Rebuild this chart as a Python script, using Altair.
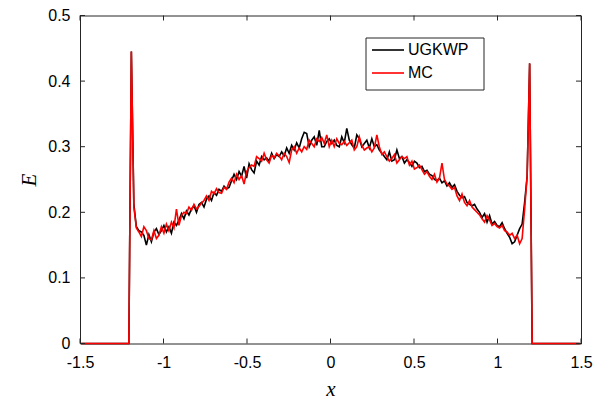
import altair as alt
import pandas as pd
import numpy as np

# ---------------- data ----------------
x_ticks = [-1.5, -1, -0.5, 0, 0.5, 1, 1.5]
y_ticks = [0, 0.1, 0.2, 0.3, 0.4, 0.5]
series_names = ["UGKWP", "MC"]
series_colors = ["black", "red"]

# cell centres: -1.4925 + 0.015*k, k = 0..199 ; zero outside |x| > 1.2
x_first = -1.4925
x_step = 0.015
n_zero = 20

ugkwp_core = [
    0.445, 0.212, 0.178, 0.172, 0.170, 0.165, 0.150, 0.166, 0.155, 0.170,
    0.175, 0.166, 0.172, 0.180, 0.170, 0.178, 0.168, 0.185, 0.180, 0.188,
    0.198, 0.190, 0.202, 0.196, 0.205, 0.210, 0.200, 0.212, 0.215, 0.208,
    0.220, 0.225, 0.218, 0.230, 0.226, 0.235, 0.232, 0.240, 0.236, 0.238,
    0.248, 0.258, 0.250, 0.262, 0.255, 0.270, 0.252, 0.274, 0.265, 0.260,
    0.278, 0.272, 0.285, 0.280, 0.283, 0.278, 0.290, 0.282, 0.288, 0.285,
    0.292, 0.286, 0.298, 0.290, 0.302, 0.295, 0.306, 0.298, 0.312, 0.322,
    0.320, 0.300, 0.310, 0.315, 0.302, 0.325, 0.300, 0.300, 0.308, 0.312,
    0.305, 0.310, 0.302, 0.300, 0.315, 0.306, 0.328, 0.310, 0.303, 0.298,
    0.318, 0.312, 0.300, 0.305, 0.310, 0.298, 0.312, 0.300, 0.303, 0.295,
    0.290, 0.285, 0.280, 0.292, 0.278, 0.280, 0.295, 0.282, 0.285, 0.275,
    0.280, 0.276, 0.270, 0.278, 0.275, 0.268, 0.270, 0.262, 0.264, 0.258,
    0.256, 0.250, 0.248, 0.252, 0.245, 0.248, 0.240, 0.245, 0.238, 0.242,
    0.232, 0.226, 0.222, 0.224, 0.215, 0.212, 0.210, 0.212, 0.205, 0.200,
    0.192, 0.198, 0.185, 0.195, 0.182, 0.186, 0.180, 0.178, 0.184, 0.175,
    0.168, 0.162, 0.152, 0.155, 0.165, 0.175, 0.182, 0.215, 0.255, 0.427,
]

mc_core = [
    0.445, 0.208, 0.176, 0.170, 0.163, 0.178, 0.172, 0.160, 0.158, 0.172,
    0.160, 0.165, 0.178, 0.168, 0.182, 0.172, 0.185, 0.176, 0.205, 0.180,
    0.195, 0.200, 0.198, 0.208, 0.203, 0.212, 0.205, 0.209, 0.214, 0.218,
    0.225, 0.218, 0.232, 0.228, 0.236, 0.230, 0.229, 0.238, 0.235, 0.246,
    0.252, 0.245, 0.258, 0.250, 0.256, 0.243, 0.262, 0.268, 0.272, 0.270,
    0.285, 0.282, 0.278, 0.290, 0.280, 0.275, 0.287, 0.283, 0.290, 0.286,
    0.280, 0.290, 0.285, 0.276, 0.295, 0.300, 0.290, 0.298, 0.292, 0.300,
    0.296, 0.310, 0.305, 0.300, 0.312, 0.308, 0.314, 0.305, 0.318, 0.300,
    0.310, 0.300, 0.312, 0.305, 0.303, 0.308, 0.302, 0.306, 0.310, 0.295,
    0.300, 0.315, 0.302, 0.295, 0.298, 0.300, 0.292, 0.298, 0.318, 0.300,
    0.288, 0.292, 0.285, 0.278, 0.282, 0.288, 0.275, 0.280, 0.285, 0.282,
    0.285, 0.272, 0.278, 0.266, 0.268, 0.272, 0.265, 0.258, 0.262, 0.255,
    0.250, 0.258, 0.246, 0.252, 0.275, 0.250, 0.243, 0.240, 0.235, 0.238,
    0.225, 0.218, 0.228, 0.215, 0.210, 0.218, 0.208, 0.204, 0.200, 0.196,
    0.190, 0.185, 0.195, 0.188, 0.180, 0.183, 0.178, 0.176, 0.180, 0.172,
    0.170, 0.165, 0.168, 0.160, 0.165, 0.152, 0.160, 0.205, 0.255, 0.427,
]

# ---------------- build tables ----------------
ugkwp_vals = [0.0] * n_zero + ugkwp_core + [0.0] * n_zero
mc_vals = [0.0] * n_zero + mc_core + [0.0] * n_zero
x_vals = [round(x_first + x_step * k, 4) for k in range(len(ugkwp_vals))]

df_u = pd.DataFrame({"x": x_vals, "E": ugkwp_vals, "series": series_names[0]})
df_m = pd.DataFrame({"x": x_vals, "E": mc_vals, "series": series_names[1]})
df_xt = pd.DataFrame({"x": x_ticks})
df_yt = pd.DataFrame({"E": y_ticks})

W, H = 501, 328
AX = "#262626"
LABEL_FONT = "Liberation Sans"
TITLE_FONT = "Liberation Serif"

xscale = alt.Scale(domain=[-1.5, 1.5], nice=False, zero=False)
yscale = alt.Scale(domain=[0, 0.5], nice=False, zero=False)

x_axis = alt.Axis(
    values=x_ticks, ticks=False, domain=False, grid=False,
    labelFont=LABEL_FONT, labelFontSize=16, labelColor="black", labelPadding=11,
    labelExpr="datum.value < 0 ? '-' + format(-datum.value, '~g') : format(datum.value, '~g')",
    title="x", titleFont=TITLE_FONT, titleFontStyle="italic", titleFontWeight="normal",
    titleFontSize=21, titleColor="black", titleBaseline="alphabetic", titleY=52,
    labelFlush=False,
)
y_axis = alt.Axis(
    values=y_ticks, ticks=False, domain=False, grid=False,
    labelFont=LABEL_FONT, labelFontSize=16, labelColor="black", labelPadding=10,
    labelExpr="format(datum.value, '~g')",
    title="E", titleFont=TITLE_FONT, titleFontStyle="italic", titleFontWeight="normal",
    titleFontSize=21, titleColor="black", titleBaseline="middle", titleX=-51,
    labelFlush=False,
)

X = alt.X("x:Q", scale=xscale, axis=x_axis)
Y = alt.Y("E:Q", scale=yscale, axis=y_axis)

line_u = alt.Chart(df_u).mark_line(color=series_colors[0], strokeWidth=1.6).encode(x=X, y=Y)
line_m = alt.Chart(df_m).mark_line(color=series_colors[1], strokeWidth=1.6).encode(x=X, y=Y)

tick_style = dict(color=AX, strokeWidth=1)
xt_bottom = alt.Chart(df_xt).mark_rule(**tick_style).encode(
    x=X, y=alt.value(H), y2=alt.value(H - 5))
xt_top = alt.Chart(df_xt).mark_rule(**tick_style).encode(
    x=X, y=alt.value(0), y2=alt.value(5))
yt_left = alt.Chart(df_yt).mark_rule(**tick_style).encode(
    y=Y, x=alt.value(0), x2=alt.value(5))
yt_right = alt.Chart(df_yt).mark_rule(**tick_style).encode(
    y=Y, x=alt.value(W), x2=alt.value(W - 5))

# legend (drawn by hand, MATLAB style box)
leg_box = alt.Chart(pd.DataFrame({"a": [0]})).mark_rect(
    fill="white", stroke=AX, strokeWidth=1).encode(
    x=alt.value(286), x2=alt.value(404), y=alt.value(22.5), y2=alt.value(74.5))
leg_layers = [leg_box]
for i, (name, col) in enumerate(zip(series_names, series_colors)):
    yy = 34.5 + 23 * i
    d = pd.DataFrame({"label": [name]})
    leg_layers.append(alt.Chart(d).mark_rule(color=col, strokeWidth=1.6).encode(
        x=alt.value(292), x2=alt.value(324), y=alt.value(yy)))
    leg_layers.append(alt.Chart(d).mark_text(
        align="left", baseline="middle", font=LABEL_FONT, fontSize=16, color="black").encode(
        x=alt.value(328), y=alt.value(yy), text=alt.Text("label:N")))

chart = alt.layer(
    line_u, line_m, xt_bottom, xt_top, yt_left, yt_right, *leg_layers
).properties(
    width=W, height=H,
    padding={"left": 80, "top": 15.5, "right": 31, "bottom": 56.5},
    autosize=alt.AutoSizeParams(type="none"),
    background="white",
).configure_view(stroke=AX, strokeWidth=1)

chart.save("out.html", embed_options={"renderer": "svg", "actions": False})
